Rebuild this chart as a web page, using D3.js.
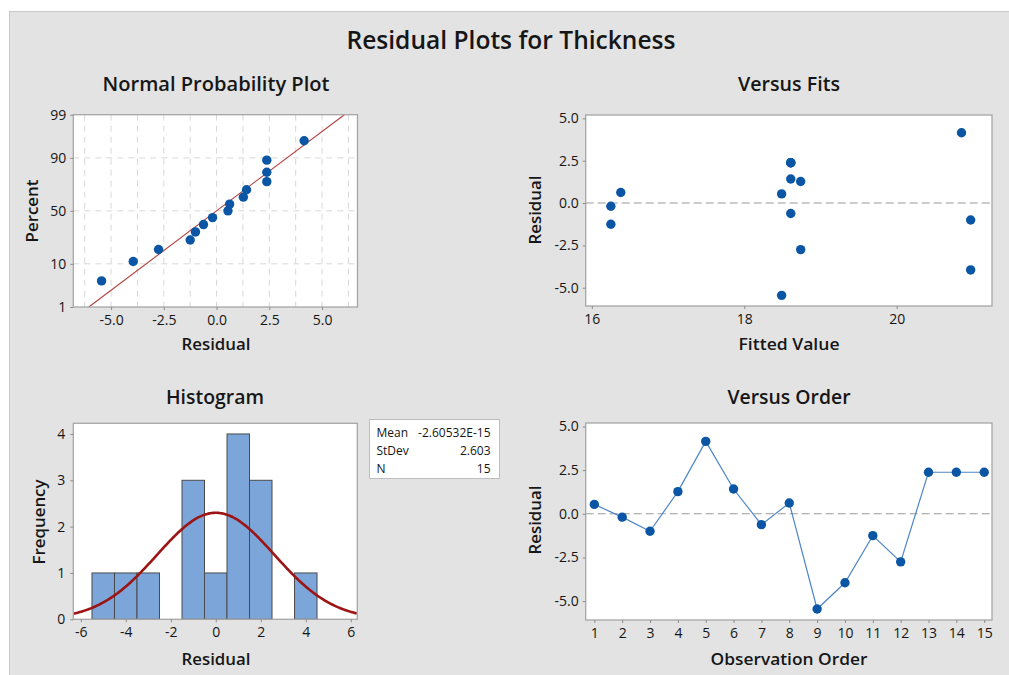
<!DOCTYPE html>
<html>
<head>
<meta charset="utf-8">
<script src="https://cdn.jsdelivr.net/npm/d3@7/dist/d3.min.js"></script>
<style>
  html, body { margin: 0; padding: 0; background: #ffffff; }
  svg { display: block; font-family: "Open Sans", "Noto Sans", sans-serif; }
</style>
</head>
<body>
<svg id="chart" width="1009" height="675"></svg>
<script>
// ---- Data ---------------------------------------------------------------
const observation = [1, 2, 3, 4, 5, 6, 7, 8, 9, 10, 11, 12, 13, 14, 15];
const residuals   = [0.54, -0.19, -1.00, 1.27, 4.15, 1.42, -0.62, 0.62, -5.45, -3.95, -1.25, -2.75, 2.38, 2.38, 2.38];
const fittedVals  = [18.49, 16.25, 20.97, 18.74, 20.85, 18.61, 18.61, 16.38, 18.49, 20.97, 16.25, 18.74, 18.61, 18.61, 18.61];

// plotting positions (percent) of the ordered residuals
const probPercent = [4.5, 11.0, 17.5, 24.0, 30.5, 37.0, 43.5, 50.0, 56.5, 63.0, 69.5, 76.0, 82.5, 89.0, 95.5];

// histogram bins (centres, width 1) and counts
const binMids   = [-5, -4, -3, -2, -1, 0, 1, 2, 3, 4];
const binCounts = [1, 1, 1, 0, 3, 1, 4, 3, 0, 1];

// summary statistics
const statLabels = ["Mean", "StDev", "N"];
const statValues = ["-2.60532E-15", "2.603", "15"];
const resMean = 0;
const resSd = 2.603;
const resN = 15;

// tick labels
const nppXTicks  = [-5, -2.5, 0, 2.5, 5];
const nppYTicks  = [1, 10, 50, 90, 99];
const nppXGrid   = [-6.25, -5, -3.75, -2.5, -1.25, 0, 1.25, 2.5, 3.75, 5, 6.25];
const nppYGrid   = [10, 50, 90];
const fitXTicks  = [16, 18, 20];
const resYTicks  = [-5, -2.5, 0, 2.5, 5];
const histXTicks = [-6, -4, -2, 0, 2, 4, 6];
const histYTicks = [0, 1, 2, 3, 4];

// ---- Helpers --------------------------------------------------------------
// inverse standard normal CDF (Acklam's rational approximation)
function qnorm(p) {
  const a = [-3.969683028665376e+01, 2.209460984245205e+02, -2.759285104469687e+02, 1.383577518672690e+02, -3.066479806614716e+01, 2.506628277459239e+00];
  const b = [-5.447609879822406e+01, 1.615858368580409e+02, -1.556989798598866e+02, 6.680131188771972e+01, -1.328068155288572e+01];
  const c = [-7.784894002430293e-03, -3.223964580411365e-01, -2.400758277161838e+00, -2.549732539343734e+00, 4.374664141464968e+00, 2.938163982698783e+00];
  const d = [7.784695709041462e-03, 3.224671290700398e-01, 2.445134137142996e+00, 3.754408661907416e+00];
  const pl = 0.02425, ph = 1 - pl;
  let q, r;
  if (p < pl) {
    q = Math.sqrt(-2 * Math.log(p));
    return (((((c[0]*q+c[1])*q+c[2])*q+c[3])*q+c[4])*q+c[5]) / ((((d[0]*q+d[1])*q+d[2])*q+d[3])*q+1);
  } else if (p <= ph) {
    q = p - 0.5; r = q * q;
    return (((((a[0]*r+a[1])*r+a[2])*r+a[3])*r+a[4])*r+a[5])*q / (((((b[0]*r+b[1])*r+b[2])*r+b[3])*r+b[4])*r+1);
  } else {
    q = Math.sqrt(-2 * Math.log(1 - p));
    return -(((((c[0]*q+c[1])*q+c[2])*q+c[3])*q+c[4])*q+c[5]) / ((((d[0]*q+d[1])*q+d[2])*q+d[3])*q+1);
  }
}
const dnorm = (x, m, s) => Math.exp(-0.5 * ((x - m) / s) ** 2) / (s * Math.sqrt(2 * Math.PI));

// number formats using a plain hyphen for negatives
const locale = d3.formatLocale({ decimal: ".", thousands: ",", grouping: [3], currency: ["", ""], minus: "-" });
const fmt1 = locale.format(".1f");
const fmt0 = locale.format("d");

const TEXT = "#161616";
const FRAME = "#a6a6a6";
const POINT = "#0b56a4";
const R = 4.7;

const svg = d3.select("#chart");

// grey backdrop of the graph window
svg.append("rect")
  .attr("x", 9.5).attr("y", 11.5).attr("width", 1005).attr("height", 670)
  .attr("fill", "#e3e3e3").attr("stroke", "#c8c8c8");

function label(text, x, y, size, weight, width, rotate) {
  const t = svg.append("text")
    .attr("text-anchor", "middle")
    .attr("font-size", size)
    .attr("font-weight", weight)
    .attr("fill", TEXT)
    .text(text);
  if (rotate) t.attr("transform", `translate(${x},${y}) rotate(-90)`);
  else t.attr("x", x).attr("y", y);
  if (width) t.attr("textLength", width).attr("lengthAdjust", "spacingAndGlyphs");
  return t;
}

function frame(x0, y0, x1, y1) {
  return svg.append("rect")
    .attr("x", x0).attr("y", y0).attr("width", x1 - x0).attr("height", y1 - y0)
    .attr("fill", "#ffffff");
}
function frameBorder(x0, y0, x1, y1) {
  svg.append("rect")
    .attr("x", x0).attr("y", y0).attr("width", x1 - x0).attr("height", y1 - y0)
    .attr("fill", "none").attr("stroke", FRAME).attr("stroke-width", 1.3);
}

function styleAxis(g) {
  g.select(".domain").remove();
  g.selectAll(".tick line").attr("stroke", "#8c8c8c");
  g.selectAll(".tick text").attr("fill", TEXT).attr("font-size", 14)
    .attr("font-family", "\"Open Sans\", sans-serif");
}

// ---- Titles ---------------------------------------------------------------
label("Residual Plots for Thickness", 511, 49, 25, 600, 329);
label("Normal Probability Plot", 216, 91, 19, 600, 227);
label("Versus Fits", 789, 91, 19, 600, 102);
label("Histogram", 215, 404, 19, 600, 98);
label("Versus Order", 789, 404, 19, 600, 123);

// ---- Normal probability plot --------------------------------------------
{
  const x0 = 73.3, x1 = 357.5, y0 = 114.7, y1 = 307;
  const x = d3.scaleLinear().domain([-6.79, 6.68]).range([x0, x1]);
  const z = d3.scaleLinear().domain([qnorm(0.01), qnorm(0.99)]).range([y1, y0]);
  const yP = p => z(qnorm(p / 100));
  frame(x0, y0, x1, y1);

  const grid = svg.append("g").attr("stroke", "#d8d8d8").attr("stroke-dasharray", "6,5");
  grid.selectAll("line.v").data(nppXGrid).join("line")
    .attr("x1", d => x(d)).attr("x2", d => x(d)).attr("y1", y0).attr("y2", y1);
  grid.selectAll("line.h").data(nppYGrid).join("line")
    .attr("y1", d => yP(d)).attr("y2", d => yP(d)).attr("x1", x0).attr("x2", x1);

  // fitted normal line from 1% to 99%
  const fitLine = [1, 99].map(p => [resMean + resSd * qnorm(p / 100), p]);
  svg.append("path")
    .attr("d", d3.line().x(d => x(d[0])).y(d => yP(d[1]))(fitLine))
    .attr("stroke", "#b4403d").attr("stroke-width", 1.1).attr("fill", "none");

  const sorted = residuals.slice().sort(d3.ascending);
  svg.append("g").selectAll("circle").data(sorted).join("circle")
    .attr("cx", d => x(d)).attr("cy", (d, i) => yP(probPercent[i]))
    .attr("r", R).attr("fill", POINT);

  frameBorder(x0, y0, x1, y1);

  svg.append("g").attr("transform", `translate(0,${y1})`)
    .call(d3.axisBottom(x).tickValues(nppXTicks).tickFormat(fmt1).tickSize(3).tickPadding(5))
    .call(styleAxis);
  svg.append("g").attr("transform", `translate(${x0},0)`)
    .call(d3.axisLeft(z).tickValues(nppYTicks.map(p => qnorm(p / 100)))
      .tickFormat((d, i) => nppYTicks[i]).tickSize(3).tickPadding(4))
    .call(styleAxis);

  label("Residual", 216, 350, 17, 600, 69);
  label("Percent", 38, 211, 17, 600, 63, true);
}

// ---- Versus fits ------------------------------------------------------------
{
  const x0 = 585.7, x1 = 992, y0 = 115, y1 = 306;
  const x = d3.scaleLinear().domain([15.92, 21.25]).range([x0, x1]);
  const y = d3.scaleLinear().domain([-6.08, 5.2]).range([y1, y0]);
  frame(x0, y0, x1, y1);

  svg.append("line")
    .attr("x1", x0).attr("x2", x1).attr("y1", y(0)).attr("y2", y(0))
    .attr("stroke", "#9a9a9a").attr("stroke-dasharray", "8,4").attr("stroke-width", 1.1);

  svg.append("g").selectAll("circle").data(observation).join("circle")
    .attr("cx", (d, i) => x(fittedVals[i])).attr("cy", (d, i) => y(residuals[i]))
    .attr("r", R).attr("fill", POINT);

  frameBorder(x0, y0, x1, y1);

  svg.append("g").attr("transform", `translate(0,${y1})`)
    .call(d3.axisBottom(x).tickValues(fitXTicks).tickFormat(fmt0).tickSize(3).tickPadding(5))
    .call(styleAxis);
  svg.append("g").attr("transform", `translate(${x0},0)`)
    .call(d3.axisLeft(y).tickValues(resYTicks).tickFormat(fmt1).tickSize(3).tickPadding(4))
    .call(styleAxis);

  label("Fitted Value", 789, 350, 17, 600, 101);
  label("Residual", 541, 210, 17, 600, 69, true);
}

// ---- Histogram ------------------------------------------------------------
{
  const x0 = 73.3, x1 = 357.3, y0 = 423.3, y1 = 619.3;
  const x = d3.scaleLinear().domain([-6.33, 6.29]).range([x0, x1]);
  const y = d3.scaleLinear().domain([0, 4.23]).range([y1, y0]);
  frame(x0, y0, x1, y1);

  const bins = binMids.map((m, i) => ({ m, c: binCounts[i] })).filter(d => d.c > 0);
  svg.append("g").selectAll("rect").data(bins).join("rect")
    .attr("x", d => x(d.m - 0.5)).attr("width", d => x(d.m + 0.5) - x(d.m - 0.5))
    .attr("y", d => y(d.c)).attr("height", d => y(0) - y(d.c))
    .attr("fill", "#7ca6d9").attr("stroke", "#4a4a4a").attr("stroke-width", 1);

  // fitted normal density scaled to counts (bin width 1)
  svg.append("clipPath").attr("id", "histClip")
    .append("rect").attr("x", x0).attr("y", y0).attr("width", x1 - x0).attr("height", y1 - y0);
  const xs = d3.range(x.domain()[0], x.domain()[1] + 0.01, 0.05);
  svg.append("path")
    .attr("clip-path", "url(#histClip)")
    .attr("d", d3.line().x(d => x(d)).y(d => y(resN * 1 * dnorm(d, resMean, resSd))).curve(d3.curveBasis)(xs))
    .attr("stroke", "#9c1414").attr("stroke-width", 2.6).attr("fill", "none");

  frameBorder(x0, y0, x1, y1);

  svg.append("g").attr("transform", `translate(0,${y1})`)
    .call(d3.axisBottom(x).tickValues(histXTicks).tickFormat(fmt0).tickSize(3).tickPadding(5))
    .call(styleAxis);
  svg.append("g").attr("transform", `translate(${x0},0)`)
    .call(d3.axisLeft(y).tickValues(histYTicks).tickFormat(fmt0).tickSize(3).tickPadding(5))
    .call(styleAxis);

  label("Residual", 216, 665, 17, 600, 69);
  label("Frequency", 45, 522, 17, 600, 85, true);

  // statistics box
  const bx = 369.5, by = 419.5, bw = 130, bh = 59;
  svg.append("rect").attr("x", bx).attr("y", by).attr("width", bw).attr("height", bh)
    .attr("fill", "#ffffff").attr("stroke", "#bdbdbd");
  const rows = svg.append("g").attr("font-size", 12).attr("fill", TEXT);
  rows.selectAll("text.k").data(statLabels).join("text")
    .attr("x", bx + 7).attr("y", (d, i) => by + 17 + i * 18.3).text(d => d);
  rows.selectAll("text.v").data(statValues).join("text")
    .attr("x", bx + bw - 9).attr("y", (d, i) => by + 17 + i * 18.3)
    .attr("text-anchor", "end").text(d => d);
}

// ---- Versus order -----------------------------------------------------------
{
  const x0 = 585.7, x1 = 992, y0 = 423, y1 = 620;
  const x = d3.scaleLinear().domain([0.69, 15.28]).range([x0, x1]);
  const y = d3.scaleLinear().domain([-6.08, 5.2]).range([y1, y0]);
  frame(x0, y0, x1, y1);

  svg.append("line")
    .attr("x1", x0).attr("x2", x1).attr("y1", y(0)).attr("y2", y(0))
    .attr("stroke", "#9a9a9a").attr("stroke-dasharray", "8,4").attr("stroke-width", 1.1);

  svg.append("path")
    .attr("d", d3.line().x(d => x(d)).y((d, i) => y(residuals[i]))(observation))
    .attr("stroke", "#4f86c9").attr("stroke-width", 1.2).attr("fill", "none");

  svg.append("g").selectAll("circle").data(observation).join("circle")
    .attr("cx", d => x(d)).attr("cy", (d, i) => y(residuals[i]))
    .attr("r", R).attr("fill", POINT);

  frameBorder(x0, y0, x1, y1);

  svg.append("g").attr("transform", `translate(0,${y1})`)
    .call(d3.axisBottom(x).tickValues(observation).tickFormat(fmt0).tickSize(3).tickPadding(5))
    .call(styleAxis);
  svg.append("g").attr("transform", `translate(${x0},0)`)
    .call(d3.axisLeft(y).tickValues(resYTicks).tickFormat(fmt1).tickSize(3).tickPadding(4))
    .call(styleAxis);

  label("Observation Order", 789, 665, 17, 600, 157);
  label("Residual", 541, 520, 17, 600, 69, true);
}
</script>
</body>
</html>
